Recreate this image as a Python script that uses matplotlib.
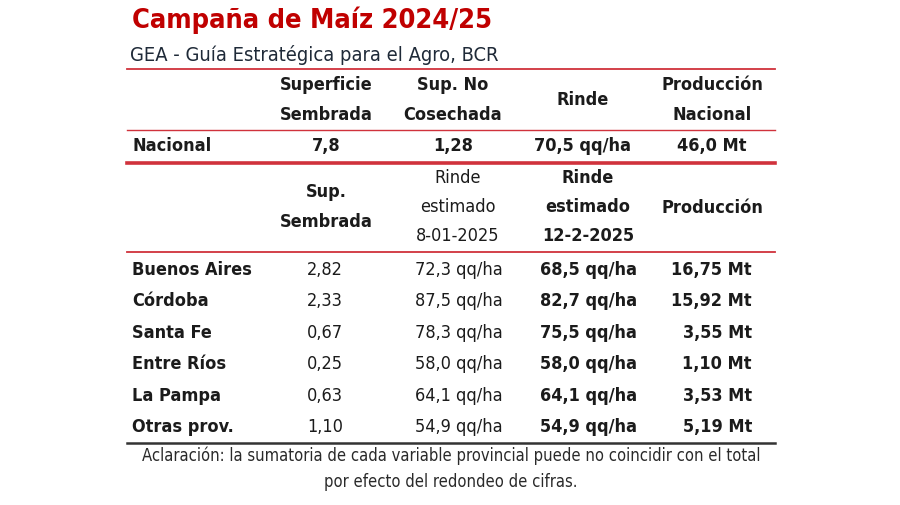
import matplotlib
matplotlib.use("Agg")
import matplotlib.pyplot as plt
from matplotlib.lines import Line2D

# Datos de la tabla
titulo = "Campaña de Maíz 2024/25"
subtitulo = "GEA - Guía Estratégica para el Agro, BCR"

encabezado_nac = ["Superficie\nSembrada", "Sup. No\nCosechada", "Rinde", "Producción\nNacional"]
fila_nac = ["7,8", "1,28", "70,5 qq/ha", "46,0 Mt"]

provincias = ["Buenos Aires", "Córdoba", "Santa Fe", "Entre Ríos", "La Pampa", "Otras prov."]
sup_sembrada = ["2,82", "2,33", "0,67", "0,25", "0,63", "1,10"]
rinde_ene = ["72,3", "87,5", "78,3", "58,0", "64,1", "54,9"]
rinde_feb = ["68,5", "82,7", "75,5", "58,0", "64,1", "54,9"]
produccion = ["16,75", "15,92", "3,55", "1,10", "3,53", "5,19"]

nota = ["Aclaración: la sumatoria de cada variable provincial puede no coincidir con el total",
        "por efecto del redondeo de cifras."]

W, H = 900, 505
ROJO = "#c00000"
LINEA = "#d0323c"
TXT = "#1b1b1b"

plt.rcParams['font.family'] = ['DejaVu Sans']
plt.rcParams['font.stretch'] = 'condensed'

fig = plt.figure(figsize=(W / 100, H / 100), dpi=100)
fig.patch.set_facecolor("white")


def tx(x, y, s, **kw):
    # posiciones en pixeles (origen arriba a la izquierda)
    kw.setdefault("color", TXT)
    kw.setdefault("va", "center")
    kw.setdefault("fontsize", 13)
    fig.text(x / W, 1 - y / H, s, **kw)


def linea(y, x0=127, x1=775, color=LINEA, lw=1.3):
    fig.add_artist(Line2D([x0 / W, x1 / W], [1 - y / H, 1 - y / H], color=color, lw=lw))


#---------------------- TITULOS ----------------------
tx(132, 20, titulo, color=ROJO, fontsize=19.5, fontweight="bold")
tx(130, 55, subtitulo, color="#1f2a38", fontsize=14.4)
linea(69)

#---------------------- NACIONAL ----------------------
cols = [326, 453, 583, 712]
for x, h in zip(cols, encabezado_nac):
    tx(x, 100, h, ha="center", fontweight="bold", linespacing=1.8)
linea(130, lw=1.0)
tx(132, 146, "Nacional", fontweight="bold")
for x, v in zip(cols, fila_nac):
    tx(x, 146, v, ha="center", fontweight="bold")
linea(163, lw=2.6)

#---------------------- PROVINCIAS ----------------------
tx(326, 207, "Sup.\nSembrada", ha="center", fontweight="bold", linespacing=1.8)
tx(458, 207, "Rinde\nestimado\n8-01-2025", ha="center", linespacing=1.8)
tx(588, 207, "Rinde\nestimado\n12-2-2025", ha="center", fontweight="bold", linespacing=1.8)
tx(712, 208, "Producción", ha="center", fontweight="bold")
linea(252, lw=1.3)

y0, dy = 270, 31.4
for i, prov in enumerate(provincias):
    y = y0 + i * dy
    tx(132, y, prov, fontweight="bold")
    tx(325, y, sup_sembrada[i], ha="center")
    tx(503, y, rinde_ene[i] + " qq/ha", ha="right")
    tx(637, y, rinde_feb[i] + " qq/ha", ha="right", fontweight="bold")
    tx(752, y, produccion[i] + " Mt", ha="right", fontweight="bold")
linea(443, color="#333333", lw=1.8)

#---------------------- NOTA ----------------------
tx(451, 456, nota[0], ha="center", fontsize=11.9, color="#2a2a2a")
tx(451, 482, nota[1], ha="center", fontsize=11.9, color="#2a2a2a")

fig.savefig("out.png", dpi=100)
